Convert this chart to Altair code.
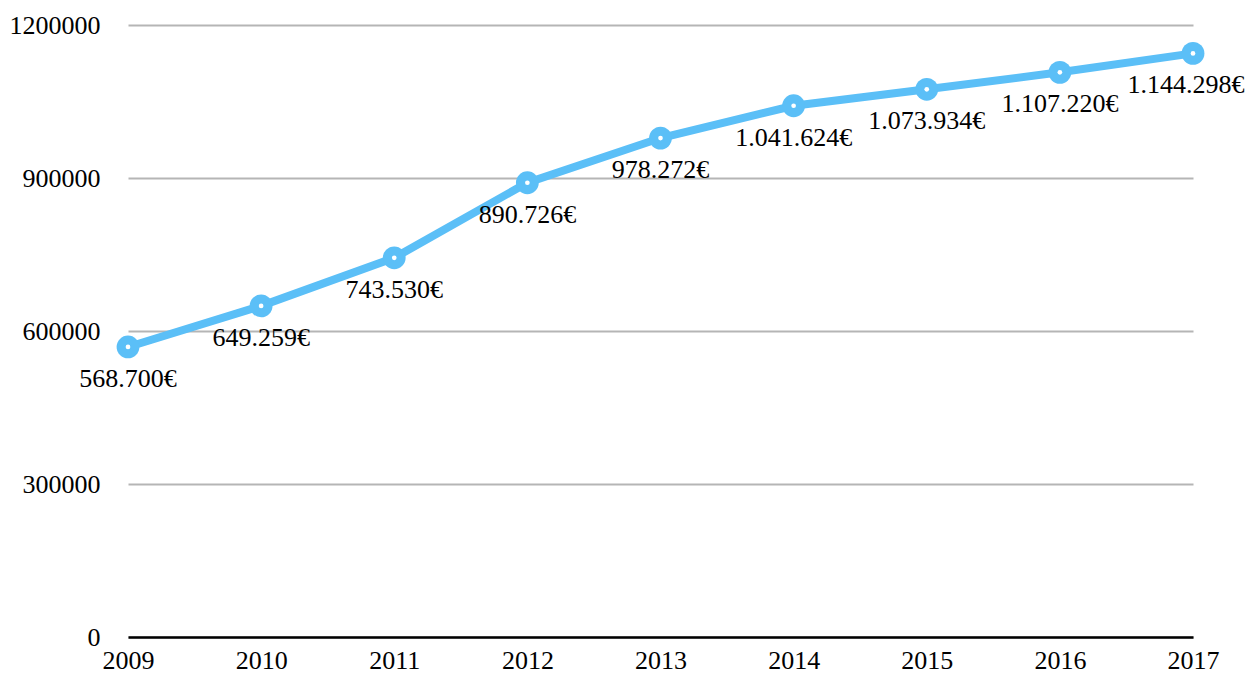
import altair as alt
import pandas as pd

years = [2009, 2010, 2011, 2012, 2013, 2014, 2015, 2016, 2017]
values = [568700, 649259, 743530, 890726, 978272, 1041624, 1073934, 1107220, 1144298]
labels = ["568.700€", "649.259€", "743.530€", "890.726€", "978.272€",
          "1.041.624€", "1.073.934€", "1.107.220€", "1.144.298€"]

df = pd.DataFrame({"year": years, "value": values, "label": labels})

FONT = "Liberation Serif"
BLUE = "#5BBFF7"

x = alt.X("year:Q", scale=alt.Scale(domain=[2009, 2017], nice=False, zero=False),
          axis=alt.Axis(values=years, format="d", title=None, grid=False, ticks=False,
                        domain=True, domainColor="#000000", domainWidth=2.5,
                        labelFont=FONT, labelFontSize=26, labelColor="#000000",
                        labelPadding=10, labelFlush=False))
y = alt.Y("value:Q", scale=alt.Scale(domain=[0, 1200000], nice=False),
          axis=alt.Axis(values=[0, 300000, 600000, 900000, 1200000], format="d", title=None,
                        grid=True, gridColor="#b5b5b5", gridWidth=2, ticks=False, domain=False,
                        labelFont=FONT, labelFontSize=26, labelColor="#000000",
                        labelPadding=28, labelBaseline="middle"))

base = alt.Chart(df).encode(x=x, y=y)
line = base.mark_line(color=BLUE, strokeWidth=8)
pts = base.mark_circle(color=BLUE, opacity=1, size=520)
dots = base.mark_circle(color="white", opacity=1, size=22)
text = base.transform_filter(alt.datum.year < 2017).mark_text(
    font=FONT, fontSize=26, color="#000000", dy=32,
    align="center", baseline="middle").encode(text="label:N")
text_last = base.transform_filter(alt.datum.year == 2017).mark_text(
    font=FONT, fontSize=26, color="#000000", dy=32, dx=-7,
    align="center", baseline="middle").encode(text="label:N")

chart = (line + pts + dots + text + text_last).properties(
    width=1065, height=612,
    background="white",
    autosize=alt.AutoSizeParams(type="none"),
    padding={"left": 120, "top": 17, "right": 52, "bottom": 40},
).configure_view(stroke=None, strokeWidth=0).configure_axisX(grid=False)

chart.save("out.html", embed_options={"renderer": "svg", "actions": False})
